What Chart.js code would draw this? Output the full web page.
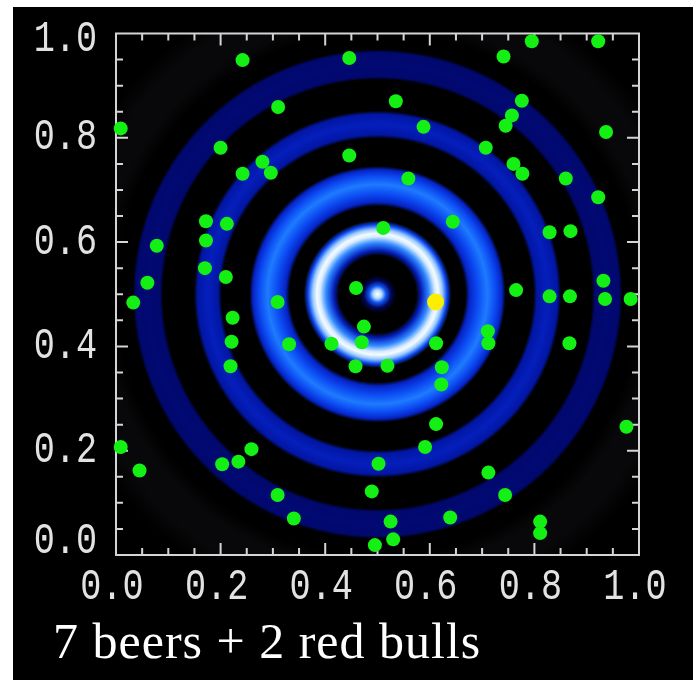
<!DOCTYPE html>
<html>
<head>
<meta charset="utf-8">
<script src="https://cdn.jsdelivr.net/npm/chart.js@4/dist/chart.umd.min.js"></script>
<style>
  html, body { margin: 0; padding: 0; background: #fff; }
  canvas { display: block; }
</style>
</head>
<body>
<canvas id="grafico" width="693" height="680"></canvas>
<script>
// green points (x, y)
const greenX = [0.242, 0.446, 0.310, 0.009, 0.200, 0.446, 0.280, 0.296, 0.242, 0.172,
  0.212, 0.172, 0.078, 0.170, 0.210, 0.060, 0.459, 0.795, 0.922, 0.741,
  0.535, 0.776, 0.757, 0.745, 0.588, 0.937, 0.707, 0.760, 0.777, 0.860,
  0.559, 0.922, 0.644, 0.829, 0.869, 0.511, 0.932, 0.765, 0.829, 0.868,
  0.935, 0.984, 0.474, 0.470, 0.612, 0.711, 0.712, 0.867, 0.519, 0.623,
  0.622, 0.612, 0.976, 0.591, 0.502, 0.712, 0.489, 0.744, 0.639, 0.525,
  0.811, 0.811, 0.530, 0.495, 0.033, 0.309, 0.223, 0.221, 0.331, 0.412,
  0.219, 0.458, 0.009, 0.045, 0.259, 0.203, 0.234, 0.309, 0.340];
const greenY = [0.949, 0.953, 0.859, 0.818, 0.781, 0.766, 0.754, 0.733, 0.731, 0.640,
  0.635, 0.603, 0.593, 0.550, 0.533, 0.522, 0.512, 0.985, 0.985, 0.956,
  0.870, 0.871, 0.843, 0.823, 0.821, 0.811, 0.781, 0.750, 0.731, 0.722,
  0.722, 0.686, 0.639, 0.619, 0.621, 0.627, 0.526, 0.508, 0.496, 0.496,
  0.491, 0.491, 0.438, 0.408, 0.406, 0.429, 0.406, 0.406, 0.363, 0.360,
  0.327, 0.251, 0.246, 0.207, 0.175, 0.158, 0.122, 0.115, 0.072, 0.064,
  0.064, 0.042, 0.030, 0.019, 0.484, 0.485, 0.455, 0.409, 0.404, 0.405,
  0.362, 0.362, 0.207, 0.162, 0.203, 0.174, 0.179, 0.115, 0.070];

// the yellow one
const yellowX = [0.611];
const yellowY = [0.485];

// ring pattern: radial profile around the centre
const ringCenter = [0.5, 0.5];
const ringRadius = [0, 0.008, 0.016, 0.026, 0.036, 0.074, 0.084, 0.098, 0.11, 0.116,
  0.124, 0.133, 0.141, 0.168, 0.176, 0.192, 0.21, 0.226, 0.238, 0.245,
  0.298, 0.305, 0.325, 0.344, 0.351, 0.41, 0.416, 0.44, 0.462, 0.468,
  0.5, 0.53, 0.58, 0.62];
const ringLevel = [1, 0.85, 0.45, 0.12, 0, 0, 0.28, 0.6, 0.92, 0.98,
  0.8, 0.4, 0, 0, 0.3, 0.42, 0.56, 0.42, 0.3, 0,
  0, 0.24, 0.28, 0.24, 0, 0, 0.15, 0.16, 0.15, 0,
  0, 0.05, 0.05, 0];

const tickValues = [0, 0.2, 0.4, 0.6, 0.8, 1.0];
const tickLabels = ['0.0', '0.2', '0.4', '0.6', '0.8', '1.0'];
const caption = '7 beers + 2 red bulls';

// colour table for the ring levels
const cmapLevel = [0, 0.06, 0.12, 0.2, 0.3, 0.4, 0.55, 0.7, 0.85, 1];
const cmapColor = [[0, 0, 0], [9, 9, 12], [2, 6, 90], [0, 12, 140], [6, 36, 200],
  [10, 68, 240], [26, 120, 255], [90, 168, 255], [180, 220, 255], [255, 255, 255]];

const corDaCor = (v) => {
  for (let i = 1; i < cmapLevel.length; i++) {
    if (v <= cmapLevel[i]) {
      const t = (v - cmapLevel[i - 1]) / (cmapLevel[i] - cmapLevel[i - 1]);
      const a = cmapColor[i - 1], b = cmapColor[i];
      return 'rgb(' + a.map((c, k) => Math.round(c + (b[k] - c) * t)).join(',') + ')';
    }
  }
  return 'rgb(255,255,255)';
};

const textoEsticado = (ctx, txt, x, y, align) => {
  ctx.save();
  ctx.translate(x, y);
  ctx.scale(0.8, 1);
  ctx.textAlign = align;
  ctx.fillText(txt, 0, 0);
  ctx.restore();
};

const fundo = {
  id: 'fundo',
  beforeDraw(chart) {
    const ctx = chart.ctx;
    ctx.save();
    ctx.fillStyle = '#ffffff';
    ctx.fillRect(0, 0, chart.width, chart.height);
    ctx.fillStyle = '#000000';
    ctx.fillRect(13, 7, chart.width - 13, chart.height - 7);
    ctx.restore();
  },
  beforeDatasetsDraw(chart) {
    const ctx = chart.ctx;
    const area = chart.chartArea;
    const sx = chart.scales.x, sy = chart.scales.y;

    // rings
    const cx = sx.getPixelForValue(ringCenter[0]);
    const cy = sy.getPixelForValue(ringCenter[1]);
    const escala = sx.getPixelForValue(1) - sx.getPixelForValue(0);
    const rLast = ringRadius[ringRadius.length - 1];
    const grad = ctx.createRadialGradient(cx, cy, 0, cx, cy, rLast * escala);
    ringRadius.forEach((r, i) => grad.addColorStop(r / rLast, corDaCor(ringLevel[i])));
    ctx.save();
    ctx.beginPath();
    ctx.rect(area.left, area.top, area.right - area.left, area.bottom - area.top);
    ctx.clip();
    ctx.fillStyle = grad;
    ctx.fillRect(area.left, area.top, area.right - area.left, area.bottom - area.top);
    ctx.restore();

    // frame + inward ticks
    ctx.save();
    ctx.strokeStyle = '#d4d4d4';
    ctx.lineWidth = 2;
    ctx.strokeRect(area.left, area.top, area.right - area.left, area.bottom - area.top);
    ctx.beginPath();
    for (let k = 1; k < 20; k++) {
      const v = k * 0.05;
      const len = k % 4 === 0 ? 12 : 7;
      const px = sx.getPixelForValue(v);
      const py = sy.getPixelForValue(v);
      ctx.moveTo(px, area.bottom); ctx.lineTo(px, area.bottom - len);
      ctx.moveTo(px, area.top); ctx.lineTo(px, area.top + len);
      ctx.moveTo(area.left, py); ctx.lineTo(area.left + len, py);
      ctx.moveTo(area.right, py); ctx.lineTo(area.right - len, py);
    }
    ctx.stroke();

    // tick labels
    ctx.fillStyle = '#e2e2e2';
    ctx.font = '44px "Liberation Mono"';
    ctx.textBaseline = 'middle';
    tickValues.forEach((v, i) => {
      const py = Math.min(Math.max(sy.getPixelForValue(v), area.top + 6), area.bottom - 14);
      textoEsticado(ctx, tickLabels[i], area.left - 19, py, 'right');
    });
    ctx.textBaseline = 'top';
    tickValues.forEach((v, i) => {
      textoEsticado(ctx, tickLabels[i], sx.getPixelForValue(v) - 4, area.bottom + 10, 'center');
    });

    // caption
    ctx.fillStyle = '#ffffff';
    ctx.font = '50px "Liberation Serif"';
    ctx.letterSpacing = '1px';
    ctx.textAlign = 'left';
    ctx.textBaseline = 'alphabetic';
    ctx.fillText(caption, 53, 658);
    ctx.restore();
  }
};

const pontos = (xs, ys) => xs.map((x, i) => ({ x: x, y: ys[i] }));

new Chart(document.getElementById('grafico'), {
  type: 'scatter',
  data: {
    datasets: [{
      data: pontos(greenX, greenY),
      backgroundColor: '#14f014',
      borderWidth: 0,
      pointRadius: 7,
      clip: false
    }, {
      data: pontos(yellowX, yellowY),
      backgroundColor: '#fbee00',
      borderWidth: 0,
      pointRadius: 8.5,
      clip: false
    }]
  },
  options: {
    responsive: false,
    animation: false,
    devicePixelRatio: 1,
    layout: { padding: { left: 116, top: 33.5, right: 54, bottom: 125 } },
    plugins: { legend: { display: false }, tooltip: { enabled: false } },
    scales: {
      x: { type: 'linear', min: 0, max: 1, display: false },
      y: { type: 'linear', min: 0, max: 1, display: false }
    }
  },
  plugins: [fundo]
});
</script>
</body>
</html>
